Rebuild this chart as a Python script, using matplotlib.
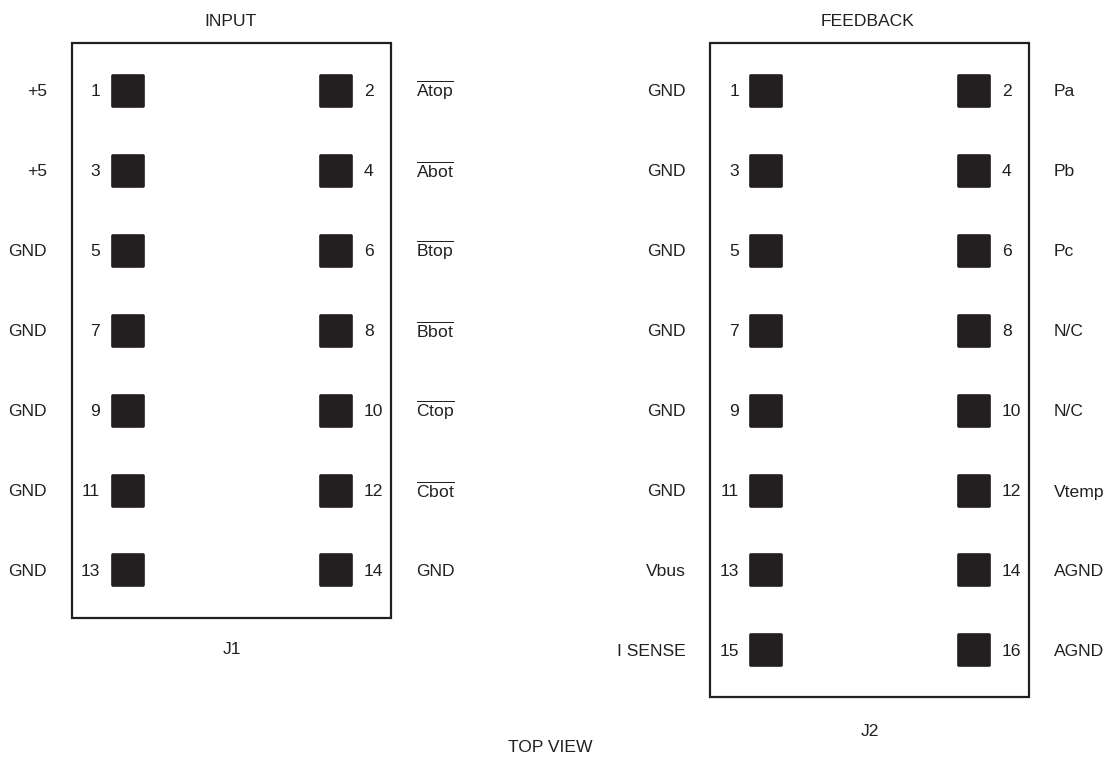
#pinout of J1 and J2 connectors, top view
import matplotlib
matplotlib.use('Agg')
import matplotlib.pyplot as plt
from matplotlib.patches import Rectangle, FancyBboxPatch

plt.rcParams['font.family'] = ['Liberation Sans']
plt.rcParams['mathtext.fontset'] = 'custom'
plt.rcParams['mathtext.rm'] = 'Liberation Sans'

# pins
j1_left_pins = [1, 3, 5, 7, 9, 11, 13]
j1_left_names = ['+5', '+5', 'GND', 'GND', 'GND', 'GND', 'GND']
j1_right_pins = [2, 4, 6, 8, 10, 12, 14]
j1_right_names = [r'$\overline{\mathrm{Atop}}$', r'$\overline{\mathrm{Abot}}$', r'$\overline{\mathrm{Btop}}$',
                  r'$\overline{\mathrm{Bbot}}$', r'$\overline{\mathrm{Ctop}}$', r'$\overline{\mathrm{Cbot}}$', 'GND']
j2_left_pins = [1, 3, 5, 7, 9, 11, 13, 15]
j2_left_names = ['GND', 'GND', 'GND', 'GND', 'GND', 'GND', 'Vbus', 'I SENSE']
j2_right_pins = [2, 4, 6, 8, 10, 12, 14, 16]
j2_right_names = ['Pa', 'Pb', 'Pc', 'N/C', 'N/C', 'Vtemp', 'AGND', 'AGND']
rows = [91, 171, 251, 331, 411, 491, 570, 650]

dark = '#231f20'
fs = 12.6

fig = plt.figure(figsize=(11.07, 7.59), dpi=100)
ax = fig.add_axes([0, 0, 1, 1])
ax.set_xlim(0, 1107)
ax.set_ylim(759, 0)
ax.axis('off')


def pin(x, y):
    ax.add_patch(FancyBboxPatch((x + 1, y - 16), 32, 32, boxstyle='round,pad=0,rounding_size=1',
                                fc=dark, ec=dark, lw=1.2))


def column(pins, names, pad_x, num_x, num_ha, name_x, name_ha):
    for i in range(len(pins)):
        y = rows[i]
        pin(pad_x, y)
        ax.text(num_x, y + 1, str(pins[i]), ha=num_ha, va='center', fontsize=fs, color=dark)
        # overlined names sit a little higher than mathtext puts them
        dy = -1 if names[i].startswith('$') else 1
        ax.text(name_x, y + dy, names[i], ha=name_ha, va='center', fontsize=fs, color=dark)


# J1
ax.add_patch(Rectangle((72, 43), 319, 575, fill=False, ec=dark, lw=1.6))
column(j1_left_pins, j1_left_names, 111, 100, 'right', 47, 'right')
column(j1_right_pins, j1_right_names, 319, 364, 'left', 416, 'left')
ax.text(231, 21, 'INPUT', ha='center', va='center', fontsize=fs, color=dark)
ax.text(232, 649, 'J1', ha='center', va='center', fontsize=fs, color=dark)

# J2
ax.add_patch(Rectangle((710, 43), 319, 654, fill=False, ec=dark, lw=1.6))
column(j2_left_pins, j2_left_names, 749, 739, 'right', 686, 'right')
column(j2_right_pins, j2_right_names, 957, 1002, 'left', 1054, 'left')
ax.text(868, 21, 'FEEDBACK', ha='center', va='center', fontsize=fs, color=dark)
ax.text(870, 732, 'J2', ha='center', va='center', fontsize=fs, color=dark)

ax.text(550, 748, 'TOP VIEW', ha='center', va='center', fontsize=fs, color=dark)

fig.savefig('out.png', dpi=100)
